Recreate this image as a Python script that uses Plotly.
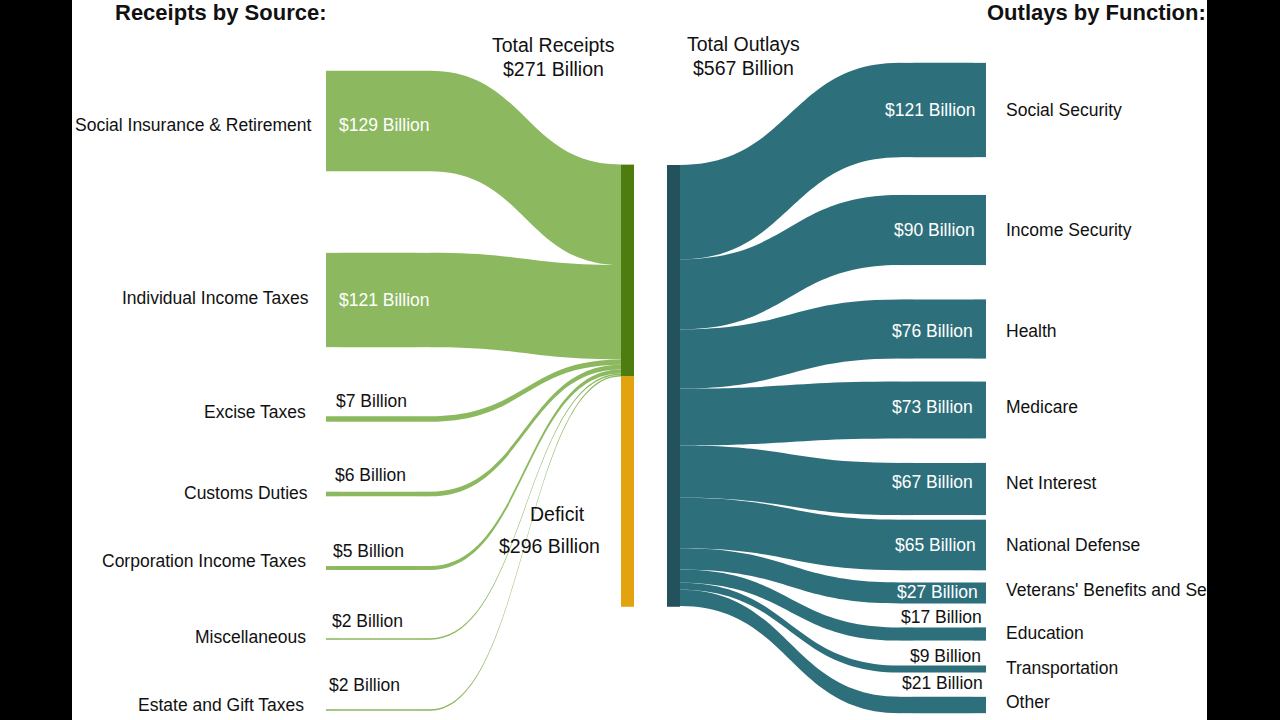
import plotly.graph_objects as go

# ---------------- data ----------------
source_names = ["Social Insurance & Retirement", "Individual Income Taxes", "Excise Taxes",
                "Customs Duties", "Corporation Income Taxes", "Miscellaneous", "Estate and Gift Taxes"]
source_values = [129, 121, 7, 6, 5, 2, 2]

function_names = ["Social Security", "Income Security", "Health", "Medicare", "Net Interest",
                  "National Defense", "Veterans' Benefits and Services", "Education",
                  "Transportation", "Other"]
function_values = [121, 90, 76, 73, 67, 65, 27, 17, 9, 21]

total_receipts = 271
deficit = 296
total_outlays = 567

# ---------------- layout / styling ----------------
W, H = 1280, 720
PAD = 31
NODE_T = 13
ky = (H - (len(function_values) - 1) * PAD) / max(sum(function_values), 1)  # px per $B (approx plotly scale)

TOP_MID = 165
source_cy = [121, 300, 419, 494, 568, 639, 710]
function_cy = [110, 230, 329, 410, 489, 545, 593, 634, 669, 705]

X_SRC, X_SRC_D, X_REC, X_OUT, X_FUN_D, X_FUN = 332.5, 423.5, 627.5, 673.5, 906.5, 979.5
FRAME_RIGHT = 1207

GREEN = "#8cb85f"
DGREEN = "#4f7c0f"
GOLD = "#e2a30e"
TEAL = "#2e6f7c"
DTEAL = "#24525c"
FONT = "Liberation Sans, Arial, sans-serif"
TXT = "#111111"

ns = len(source_values)
nf = len(function_values)

# node indices
i_src = list(range(ns))
i_srcd = list(range(ns, 2 * ns))
i_rec = 2 * ns
i_def = i_rec + 1
i_out = i_def + 1
i_fund = list(range(i_out + 1, i_out + 1 + nf))
i_fun = list(range(i_out + 1 + nf, i_out + 1 + 2 * nf))
n_nodes = i_fun[-1] + 1

node_x = [0.0] * n_nodes
node_y = [0.0] * n_nodes
node_c = [""] * n_nodes
for k in range(ns):
    node_x[i_src[k]] = X_SRC / W
    node_x[i_srcd[k]] = X_SRC_D / W
    node_y[i_src[k]] = source_cy[k] / H
    node_y[i_srcd[k]] = source_cy[k] / H
    node_c[i_src[k]] = GREEN
    node_c[i_srcd[k]] = GREEN
node_x[i_rec] = X_REC / W
node_y[i_rec] = (TOP_MID + total_receipts * ky / 2) / H
node_c[i_rec] = DGREEN
node_x[i_def] = X_REC / W
node_y[i_def] = (TOP_MID + total_receipts * ky + deficit * ky / 2) / H
node_c[i_def] = GOLD
node_x[i_out] = X_OUT / W
node_y[i_out] = (TOP_MID + total_outlays * ky / 2) / H
node_c[i_out] = DTEAL
for k in range(nf):
    node_x[i_fund[k]] = X_FUN_D / W
    node_x[i_fun[k]] = X_FUN / W
    node_y[i_fund[k]] = function_cy[k] / H
    node_y[i_fun[k]] = function_cy[k] / H
    node_c[i_fund[k]] = TEAL
    node_c[i_fun[k]] = TEAL

src, tgt, val, lcol = [], [], [], []
for k in range(ns):
    src += [i_src[k], i_srcd[k]]
    tgt += [i_srcd[k], i_rec]
    val += [source_values[k], source_values[k]]
    lcol += [GREEN, GREEN]
src += [i_rec, i_def]
tgt += [i_out, i_out]
val += [total_receipts, deficit]
lcol += ["rgba(0,0,0,0)", "rgba(0,0,0,0)"]
for k in range(nf):
    src += [i_out, i_fund[k]]
    tgt += [i_fund[k], i_fun[k]]
    val += [function_values[k], function_values[k]]
    lcol += [TEAL, TEAL]

fig = go.Figure(go.Sankey(
    arrangement="fixed",
    domain=dict(x=[0, 1], y=[0, 1]),
    hoverinfo="skip",
    node=dict(
        label=[""] * n_nodes,
        x=node_x, y=node_y, color=node_c,
        pad=PAD, thickness=NODE_T,
        line=dict(width=0),
        hoverinfo="skip",
    ),
    link=dict(source=src, target=tgt, value=val, color=lcol, hoverinfo="skip"),
))

ann = []


def add(text, x, y, xanchor="center", size=17.5, color=TXT, bold=False):
    if bold:
        text = "<b>" + text + "</b>"
    ann.append(dict(text=text, x=x / W, y=1 - y / H, xref="paper", yref="paper",
                    xanchor=xanchor, yanchor="middle", showarrow=False,
                    font=dict(family=FONT, size=size, color=color)))


def bil(v):
    return f"${v} Billion"


add("Receipts by Source:", 113, 12, "left", 22, bold=True)
add("Outlays by Function:", 985, 12, "left", 22, bold=True)
add("Total Receipts", 553, 45, size=19.5)
add(bil(total_receipts), 553, 69, size=19.5)
add("Total Outlays", 743, 44, size=19.5)
add(bil(total_outlays), 743, 68, size=19.5)
add("Deficit", 557, 514, size=19.5)
add(bil(deficit), 549, 546, size=19.5)

src_label_y = [125, 298, 412, 493, 561, 637, 705]
src_label_x = [313, 311, 308, 310, 308, 308, 306]
src_val_y = [125, 300, 401, 475, 551, 621, 685]
src_val_x = [337, 337, 334, 333, 331, 330, 327]
for k in range(ns):
    add(source_names[k], src_label_x[k], src_label_y[k], "right")
    inside = k < 2
    add(bil(source_values[k]), src_val_x[k], src_val_y[k], "left",
        color="white" if inside else TXT)

fun_label_y = [110, 230, 331, 407, 483, 545, 590, 633, 668, 702]
fun_val_y = [110, 230, 331, 407, 482, 545, 592, 617, 656, 683]
fun_val_x = [977, 977, 975, 975, 975, 978, 980, 984, 983, 985]
for k in range(nf):
    name = function_names[k]
    if name.startswith("Veterans"):
        # the part of the label beyond the white frame is hidden by the black border
        cut = len("Veterans' Benefits and Se")
        name = name[:cut] + '<span style="color:black">' + name[cut:] + "</span>"
    add(name, 1004, fun_label_y[k], "left")
    inside = k < 7
    add(bil(function_values[k]), fun_val_x[k], fun_val_y[k], "right",
        color="white" if inside else TXT)

fig.update_layout(
    width=W, height=H,
    margin=dict(l=0, r=0, t=0, b=0),
    paper_bgcolor="black",
    plot_bgcolor="white",
    font=dict(family=FONT, color=TXT),
    annotations=ann,
    shapes=[dict(type="rect", xref="paper", yref="paper", x0=72 / W, x1=FRAME_RIGHT / W, y0=0, y1=1,
                 fillcolor="white", line=dict(width=0), layer="below")],
    showlegend=False,
)

fig.write_html("out.html")
